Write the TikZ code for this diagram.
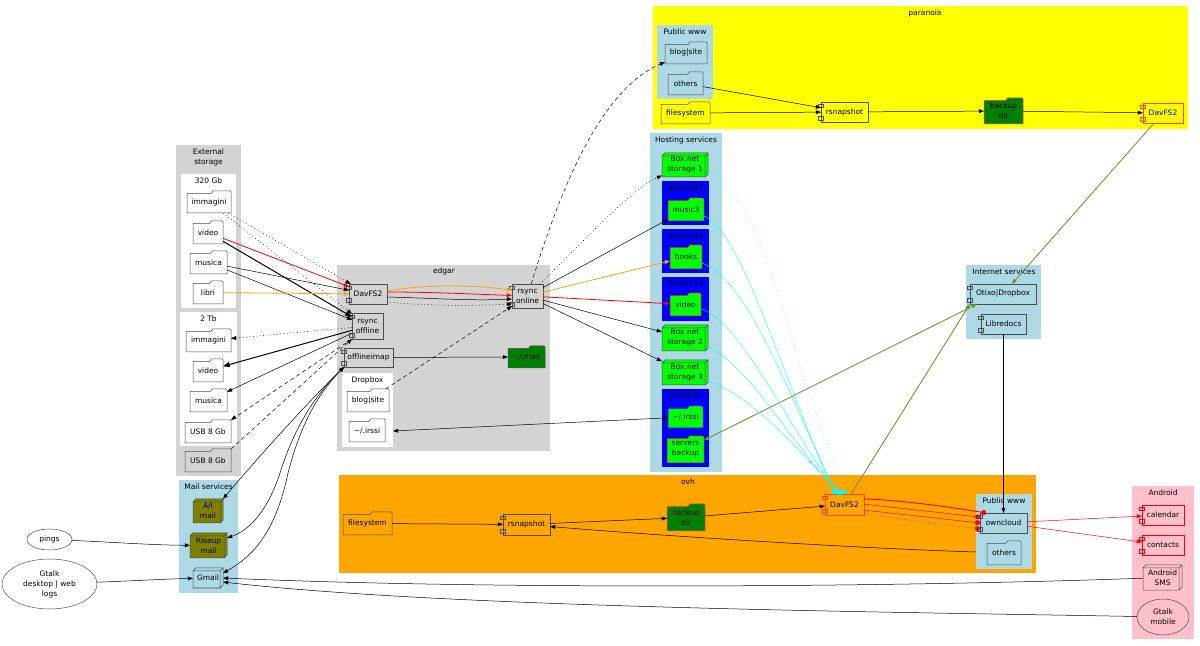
\documentclass[tikz,border=0pt]{standalone}
\usepackage{fontspec}
\setmainfont{DejaVu Sans}
\usetikzlibrary{arrows.meta,shapes.geometric}
\definecolor{lgrey}{HTML}{D3D3D3}
\definecolor{lblue}{HTML}{ADD8E6}
\definecolor{lpink}{HTML}{FFC0CB}
\definecolor{ovhorange}{HTML}{FFA500}
\definecolor{pyellow}{HTML}{FFFF00}
\definecolor{hblue}{HTML}{0000FF}
\definecolor{hgreen}{HTML}{00FF00}
\definecolor{dgreen}{HTML}{008000}
\definecolor{molive}{HTML}{808000}
\definecolor{odrab}{HTML}{6B8E23}
\definecolor{ecyan}{HTML}{00FFFF}
\definecolor{ored}{HTML}{FF4500}
\makeatletter
\pgfdeclareshape{foldershape}{
 \inheritsavedanchors[from=rectangle]
 \inheritanchorborder[from=rectangle]
 \inheritanchor[from=rectangle]{center}
 \inheritanchor[from=rectangle]{text}
 \inheritanchor[from=rectangle]{north}
 \inheritanchor[from=rectangle]{south}
 \inheritanchor[from=rectangle]{east}
 \inheritanchor[from=rectangle]{west}
 \inheritanchor[from=rectangle]{north east}
 \inheritanchor[from=rectangle]{north west}
 \inheritanchor[from=rectangle]{south east}
 \inheritanchor[from=rectangle]{south west}
 \backgroundpath{
  \southwest \pgf@xa=\pgf@x \pgf@ya=\pgf@y
  \northeast \pgf@xb=\pgf@x \pgf@yb=\pgf@y
  \pgf@yc=\pgf@yb \advance\pgf@yc by-1.25pt
  \pgf@xc=\pgf@xa \advance\pgf@xc by.55\pgf@xb \advance\pgf@xc by-.55\pgf@xa
  \pgfpathmoveto{\pgfpoint{\pgf@xa}{\pgf@ya}}
  \pgfpathlineto{\pgfpoint{\pgf@xa}{\pgf@yc}}
  \pgfpathlineto{\pgfpoint{\pgf@xc}{\pgf@yc}}
  \advance\pgf@xc by1pt
  \pgfpathlineto{\pgfpoint{\pgf@xc}{\pgf@yb}}
  \pgf@xc=\pgf@xb \advance\pgf@xc by-.5pt
  \pgfpathlineto{\pgfpoint{\pgf@xc}{\pgf@yb}}
  \pgf@yc=\pgf@yb \advance\pgf@yc by-.5pt
  \pgfpathlineto{\pgfpoint{\pgf@xb}{\pgf@yc}}
  \pgfpathlineto{\pgfpoint{\pgf@xb}{\pgf@ya}}
  \pgfpathclose
 }
}
\newcommand\compnotch[4]{%
 \pgfpathmoveto{\pgfpoint{#1}{#3}}%
 \pgfpathlineto{\pgfpoint{#2}{#3}}%
 \pgfpathlineto{\pgfpoint{#2}{#4}}%
 \pgfpathlineto{\pgfpoint{#1}{#4}}%
 \pgfpathclose}
\pgfdeclareshape{componentshape}{
 \inheritsavedanchors[from=rectangle]
 \inheritanchorborder[from=rectangle]
 \inheritanchor[from=rectangle]{center}
 \inheritanchor[from=rectangle]{text}
 \inheritanchor[from=rectangle]{north}
 \inheritanchor[from=rectangle]{south}
 \inheritanchor[from=rectangle]{east}
 \inheritanchor[from=rectangle]{west}
 \inheritanchor[from=rectangle]{north east}
 \inheritanchor[from=rectangle]{north west}
 \inheritanchor[from=rectangle]{south east}
 \inheritanchor[from=rectangle]{south west}
 \backgroundpath{
  \southwest \pgf@xa=\pgf@x \pgf@ya=\pgf@y
  \northeast \pgf@xb=\pgf@x \pgf@yb=\pgf@y
  \compnotch{\pgf@xa}{\pgf@xb}{\pgf@ya}{\pgf@yb}
  \compnotch{\pgf@xa-1.3pt}{\pgf@xa+1.1pt}{\pgf@yb-2.8pt}{\pgf@yb-1pt}
  \compnotch{\pgf@xa-1.3pt}{\pgf@xa+1.1pt}{\pgf@ya+1pt}{\pgf@ya+2.8pt}
 }
}
\pgfdeclareshape{cubeshape}{
 \inheritsavedanchors[from=rectangle]
 \inheritanchorborder[from=rectangle]
 \inheritanchor[from=rectangle]{center}
 \inheritanchor[from=rectangle]{text}
 \inheritanchor[from=rectangle]{north}
 \inheritanchor[from=rectangle]{south}
 \inheritanchor[from=rectangle]{east}
 \inheritanchor[from=rectangle]{west}
 \inheritanchor[from=rectangle]{north east}
 \inheritanchor[from=rectangle]{north west}
 \inheritanchor[from=rectangle]{south east}
 \inheritanchor[from=rectangle]{south west}
 \backgroundpath{
  \southwest \pgf@xa=\pgf@x \pgf@ya=\pgf@y
  \northeast \pgf@xb=\pgf@x \pgf@yb=\pgf@y
  \pgf@xc=\pgf@xb \advance\pgf@xc by-1.4pt
  \pgf@yc=\pgf@yb \advance\pgf@yc by-1.4pt
  \pgfpathmoveto{\pgfpoint{\pgf@xa}{\pgf@ya}}
  \pgfpathlineto{\pgfpoint{\pgf@xa}{\pgf@yc}}
  \pgfpathlineto{\pgfpoint{\pgf@xa+1.4pt}{\pgf@yb}}
  \pgfpathlineto{\pgfpoint{\pgf@xb}{\pgf@yb}}
  \pgfpathlineto{\pgfpoint{\pgf@xb}{\pgf@ya+1.4pt}}
  \pgfpathlineto{\pgfpoint{\pgf@xc}{\pgf@ya}}
  \pgfpathclose
  \pgfpathmoveto{\pgfpoint{\pgf@xa}{\pgf@yc}}
  \pgfpathlineto{\pgfpoint{\pgf@xc}{\pgf@yc}}
  \pgfpathlineto{\pgfpoint{\pgf@xc}{\pgf@ya}}
  \pgfpathmoveto{\pgfpoint{\pgf@xc}{\pgf@yc}}
  \pgfpathlineto{\pgfpoint{\pgf@xb}{\pgf@yb}}
 }
}
\makeatother
\tikzset{
 every node/.style={inner sep=0pt,outer sep=0pt,align=center,font=\fontsize{3.75}{5}\selectfont},
 boxsize/.style 2 args={minimum width=#1*0.5pt,minimum height=#2*0.5pt},
 clusterbox/.style={rectangle,fill=#1},
 folderbox/.style={shape=foldershape,draw=black!70,fill=white},
 compbox/.style={shape=componentshape,draw=black!70,fill=lgrey},
 cubebox/.style={shape=cubeshape,draw=black!70,fill=hgreen},
 roundbox/.style={ellipse,draw=black!70},
 dotedge/.style={dash pattern=on .4pt off 1.3pt},
 dashedge/.style={dash pattern=on 2pt off 1.5pt},
 boldedge/.style={line width=.5pt,>={Triangle[length=3.4pt,width=2.5pt]}},
 redtip/.style={-{Circle[length=2.5pt]},red},
 cyantip/.style={-{Circle[length=2.2pt]},ecyan,line width=.2pt}
}
\begin{document}
\begin{tikzpicture}[x=0.5pt,y=-0.5pt,line width=.25pt,>={Triangle[length=2.6pt,width=1.9pt]}]
 \useasboundingbox (0,0) rectangle (1200,646);

 \node[clusterbox=lgrey,boxsize={65}{331}] (extStorage) at (208.5,310.5) {};
 \node[clusterbox=white,boxsize={55}{134}] (diskA) at (208.5,241) {};
 \node[clusterbox=white,boxsize={57}{134}] (diskB) at (208.5,379) {};
 \node[clusterbox=lblue,boxsize={59}{113}] (mailServ) at (208.5,536.5) {};
 \node[clusterbox=lgrey,boxsize={213}{186}] (edgar) at (443.5,358) {};
 \node[clusterbox=white,boxsize={51}{74}] (dropboxE) at (367.5,410) {};
 \node[clusterbox=lblue,boxsize={72}{339}] (hosting) at (686,302.5) {};
 \node[clusterbox=hblue,boxsize={47}{44}] (sharedB) at (685.5,203) {};
 \node[clusterbox=hblue,boxsize={47}{44}] (sharedA) at (685.5,251) {};
 \node[clusterbox=hblue,boxsize={47}{44}] (sharedC) at (685.5,299) {};
 \node[clusterbox=hblue,boxsize={47}{78}] (dropboxH) at (685.5,428) {};
 \node[clusterbox=pyellow,boxsize={535}{123}] (paranoia) at (920.5,67.5) {};
 \node[clusterbox=lblue,boxsize={56}{74}] (wwwP) at (685,62) {};
 \node[clusterbox=lblue,boxsize={75}{74}] (internet) at (1003.5,302) {};
 \node[clusterbox=ovhorange,boxsize={697}{98}] (ovh) at (687.5,524) {};
 \node[clusterbox=lblue,boxsize={56}{75}] (wwwO) at (1004,531.5) {};
 \node[clusterbox=lpink,boxsize={62}{153}] (android) at (1163,562.5) {};

 \node (extLabel) at (208.5,157) {External\\storage};
 \node (diskALabel) at (208.5,181) {320 Gb};
 \node (diskBLabel) at (208.5,319) {2 Tb};
 \node (mailLabel) at (208.5,487) {Mail services};
 \node (edgarLabel) at (444,271) {edgar};
 \node (dropboxELabel) at (367.5,380) {Dropbox};
 \node (hostingLabel) at (686,140) {Hosting services};
 \node (sharedBLabel) at (685.5,188) {4shared2};
 \node (sharedALabel) at (685.5,236) {4shared1};
 \node (sharedCLabel) at (685.5,283) {4shared3};
 \node (dropboxHLabel) at (685.5,395) {Dropbox};
 \node (paranoiaLabel) at (925,13) {paranoia};
 \node (wwwPLabel) at (685,32) {Public www};
 \node (internetLabel) at (1004,272) {Internet services};
 \node (ovhLabel) at (688,482) {ovh};
 \node (wwwOLabel) at (1004,501) {Public www};
 \node (androidLabel) at (1163,493) {Android};

 \node[folderbox,boxsize={44}{22}] (immaginiA) at (209,202) {immagini};
 \node[folderbox,boxsize={30}{23}] (videoA) at (208,232.5) {video};
 \node[folderbox,boxsize={37}{23}] (musicaA) at (208.5,262.5) {musica};
 \node[folderbox,boxsize={30}{23}] (libriA) at (208,292.5) {libri};
 \node[folderbox,boxsize={45}{23}] (immaginiB) at (208.5,340.5) {immagini};
 \node[folderbox,boxsize={30}{23}] (videoB) at (208,370.5) {video};
 \node[folderbox,boxsize={37}{23}] (musicaB) at (208.5,400.5) {musica};
 \node[folderbox,boxsize={46}{23}] (usbA) at (208,431.5) {USB 8 Gb};
 \node[folderbox,fill=lgrey,boxsize={46}{23}] (usbB) at (208,460.5) {USB 8 Gb};

 \node[cubebox,fill=molive,boxsize={30}{24}] (aiMail) at (208,511) {A/I\\mail};
 \node[cubebox,fill=molive,boxsize={37}{25}] (riseup) at (208.5,545.5) {Riseup\\mail};
 \node[cubebox,fill=lblue,boxsize={30}{20}] (gmail) at (208,578) {Gmail};
 \node[roundbox,boxsize={45}{21}] (pings) at (49.5,539.5) {pings};
 \node[roundbox,boxsize={95}{50}] (gtalkDesk) at (49.5,584) {Gtalk\\desktop | web\\logs};

 \node[compbox,boxsize={38}{20}] (davEdgar) at (368,294) {DavFS2};
 \node[compbox,boxsize={31}{26}] (rsyncOffline) at (367.5,326) {rsync\\offline};
 \node[compbox,boxsize={49}{19}] (offlineimap) at (368.5,357.5) {offlineimap};
 \node[compbox,boxsize={31}{24}] (rsyncOnline) at (527.5,296) {rsync\\online};
 \node[folderbox,fill=dgreen,boxsize={37}{22}] (mailDir) at (526.5,357) {\textasciitilde/.mail};
 \node[folderbox,boxsize={42}{23}] (blogE) at (368,400.5) {blog|site};
 \node[folderbox,boxsize={36}{23}] (irssiE) at (367,430.5) {\textasciitilde/.irssi};

 \node[cubebox,boxsize={46}{24}] (boxA) at (685,165) {Box.net\\storage 1};
 \node[folderbox,fill=hgreen,draw=red,boxsize={36}{23}] (musicH) at (686,209.5) {music3};
 \node[folderbox,fill=hgreen,draw=red,boxsize={32}{24}] (booksH) at (686,257) {books};
 \node[folderbox,fill=hgreen,draw=red,boxsize={31}{23}] (videoH) at (685.5,304.5) {video};
 \node[cubebox,boxsize={46}{26}] (boxB) at (685,338) {Box.net\\storage 2};
 \node[cubebox,boxsize={46}{25}] (boxC) at (685,372.5) {Box.net\\storage 3};
 \node[folderbox,fill=hgreen,draw=hblue,boxsize={35}{22}] (irssiH) at (685.5,417) {\textasciitilde/.irssi};
 \node[folderbox,fill=hgreen,draw=red,boxsize={37}{27}] (serversH) at (685.5,449.5) {servers\\backup};

 \node[folderbox,fill=lblue,boxsize={42}{22}] (blogP) at (686,53) {blog|site};
 \node[folderbox,fill=lblue,boxsize={35}{23}] (othersP) at (685.5,83.5) {others};
 \node[folderbox,fill=pyellow,boxsize={49}{22}] (filesP) at (685.5,113) {filesystem};
 \node[compbox,fill=pyellow,boxsize={47}{20}] (rsnapP) at (844.5,112) {rsnapshot};
 \node[folderbox,fill=dgreen,draw=ored,boxsize={39}{26}] (backupP) at (1003.5,111) {backup\\dir};
 \node[compbox,fill=pyellow,draw=ored,boxsize={40}{20}] (davP) at (1163,113) {DavFS2};

 \node[compbox,fill=lblue,boxsize={66}{20}] (otixo) at (1003,294) {Otixo|Dropbox};
 \node[compbox,fill=lblue,boxsize={45}{20}] (libredocs) at (1003.5,324) {Libredocs};

 \node[folderbox,fill=ovhorange,boxsize={49}{23}] (filesO) at (367.5,523.5) {filesystem};
 \node[compbox,fill=ovhorange,boxsize={47}{21}] (rsnapO) at (526.5,524.5) {rsnapshot};
 \node[folderbox,fill=dgreen,draw=ored,boxsize={38}{27}] (backupO) at (686,517.5) {backup\\dir};
 \node[compbox,fill=ovhorange,draw=ored,boxsize={39}{21}] (davO) at (844.5,504.5) {DavFS2};
 \node[compbox,fill=lblue,boxsize={47}{20}] (owncloud) at (1003.5,523) {owncloud};
 \node[folderbox,fill=lblue,boxsize={34}{24}] (othersO) at (1004,553) {others};

 \node[compbox,fill=lpink,draw=red,boxsize={42}{20}] (calendar) at (1163,515) {calendar};
 \node[compbox,fill=lpink,draw=red,boxsize={42}{20}] (contacts) at (1163,545) {contacts};
 \node[cubebox,fill=lpink,boxsize={39}{25}] (androidSms) at (1162.5,577.5) {Android\\SMS};
 \node[roundbox,fill=lpink,boxsize={52}{36}] (gtalkMob) at (1163,617) {Gtalk\\mobile};

 \coordinate (wwwEdge) at (976,552);
 \coordinate (dropboxEdge) at (393,431);

 \draw[->,dotedge] (immaginiA) -- (davEdgar);
 \draw[->,dotedge] (immaginiA) -- (rsyncOffline);
 \draw[->,red,line width=.4pt] (videoA) -- (davEdgar);
 \draw[boldedge,->] (videoA) -- (rsyncOffline);
 \draw[->] (musicaA) -- (davEdgar);
 \draw[->] (musicaA) -- (rsyncOffline);
 \draw[->,ovhorange,line width=.4pt] (libriA) -- (davEdgar);
 \draw[->,dotedge] (rsyncOffline) -- (immaginiB);
 \draw[boldedge,->] (rsyncOffline) -- (videoB);
 \draw[->] (rsyncOffline) -- (musicaB);
 \draw[->,dashedge] (rsyncOffline.south west) -- (usbA.north east);
 \draw[->,dashedge] (usbB.north east) -- (rsyncOffline.south west);

 \draw[->,ovhorange,line width=.4pt] (davEdgar.9) .. controls (430,284) and (470,285) .. (rsyncOnline.159);
 \draw[->,red,line width=.4pt] (davEdgar.6) .. controls (430,292) and (470,294) .. (rsyncOnline);
 \draw[->] (davEdgar.-9) .. controls (430,298) and (470,301) .. (rsyncOnline.191);
 \draw[->,dotedge] (davEdgar.-23) .. controls (430,306) and (470,306) .. (rsyncOnline.207);
 \draw[->] (offlineimap) -- (mailDir);
 \draw[->,dashedge] (blogE) -- (rsyncOnline);
 \draw[->,dashedge] (rsyncOnline) .. controls (560,190) and (600,90) .. (blogP);
 \draw[->,dotedge] (rsyncOnline) .. controls (580,245) and (630,190) .. (boxA);
 \draw[->] (rsyncOnline) -- (musicH);
 \draw[->,ovhorange,line width=.4pt] (rsyncOnline) -- (booksH);
 \draw[->,red,line width=.4pt] (rsyncOnline) -- (videoH);
 \draw[->] (rsyncOnline) -- (boxB);
 \draw[->] (rsyncOnline) -- (boxC);
 \draw[<->] (dropboxEdge) -- (irssiH);

 \draw[<->] (offlineimap.south west) .. controls (310,400) and (260,455) .. (aiMail.north east);
 \draw[<->] (offlineimap.south west) .. controls (310,400) and (292,435) .. (280,473) .. controls (268,510) and (250,530) .. (riseup.22);
 \draw[<->] (offlineimap.south west) .. controls (312,400) and (298,435) .. (288,473) .. controls (276,530) and (255,555) .. (gmail.18);
 \draw[->] (pings) .. controls (110,542) and (150,545) .. (riseup);
 \draw[->] (gtalkDesk) .. controls (130,581) and (165,579) .. (gmail);
 \draw[->] (androidSms) .. controls (900,587) and (500,590) .. (gmail.east);
 \draw[->] (gtalkMob) .. controls (900,612) and (450,608) .. (gmail.-15);

 \draw[->] (othersP) -- (rsnapP);
 \draw[->] (filesP) -- (rsnapP);
 \draw[->] (rsnapP) -- (backupP);
 \draw[->] (backupP) -- (davP);
 \draw[->,odrab,line width=.4pt] (davP) -- (otixo);
 \draw[<->,odrab,line width=.4pt] (serversH) -- (otixo.201);
 \draw[->,odrab,line width=.4pt] (davO.58) -- (otixo.south west);
 \draw[->] (libredocs) -- (owncloud);

 \draw[->] (filesO) -- (rsnapO);
 \draw[->] (rsnapO) -- (backupO);
 \draw[->] (backupO) -- (davO);
 \draw[->] (wwwEdge) .. controls (850,548) and (650,535) .. (rsnapO);

 \draw[redtip,line width=.45pt] (davO.16) .. controls (900,500) and (950,507) .. (owncloud.150);
 \draw[redtip] (davO.1) -- (owncloud.166);
 \draw[redtip] (davO.-16) -- (owncloud.180);
 \draw[redtip,dotedge] (davO.-27) -- (owncloud.194);
 \draw[->,red] (owncloud) -- (calendar);
 \draw[->,red] (owncloud) -- (contacts);

 \draw[cyantip,dotedge] (boxA) .. controls (760,185) and (790,360) .. (davO.85);
 \draw[cyantip] (musicH) .. controls (740,229) and (780,370) .. (davO.133);
 \draw[cyantip] (booksH) .. controls (750,281) and (790,400) .. (davO.125);
 \draw[cyantip] (videoH) .. controls (740,320) and (790,430) .. (davO.118);
 \draw[cyantip] (boxB) .. controls (750,365) and (795,450) .. (davO.110);
 \draw[cyantip] (boxC) .. controls (760,400) and (800,455) .. (davO.100);
\end{tikzpicture}
\end{document}
